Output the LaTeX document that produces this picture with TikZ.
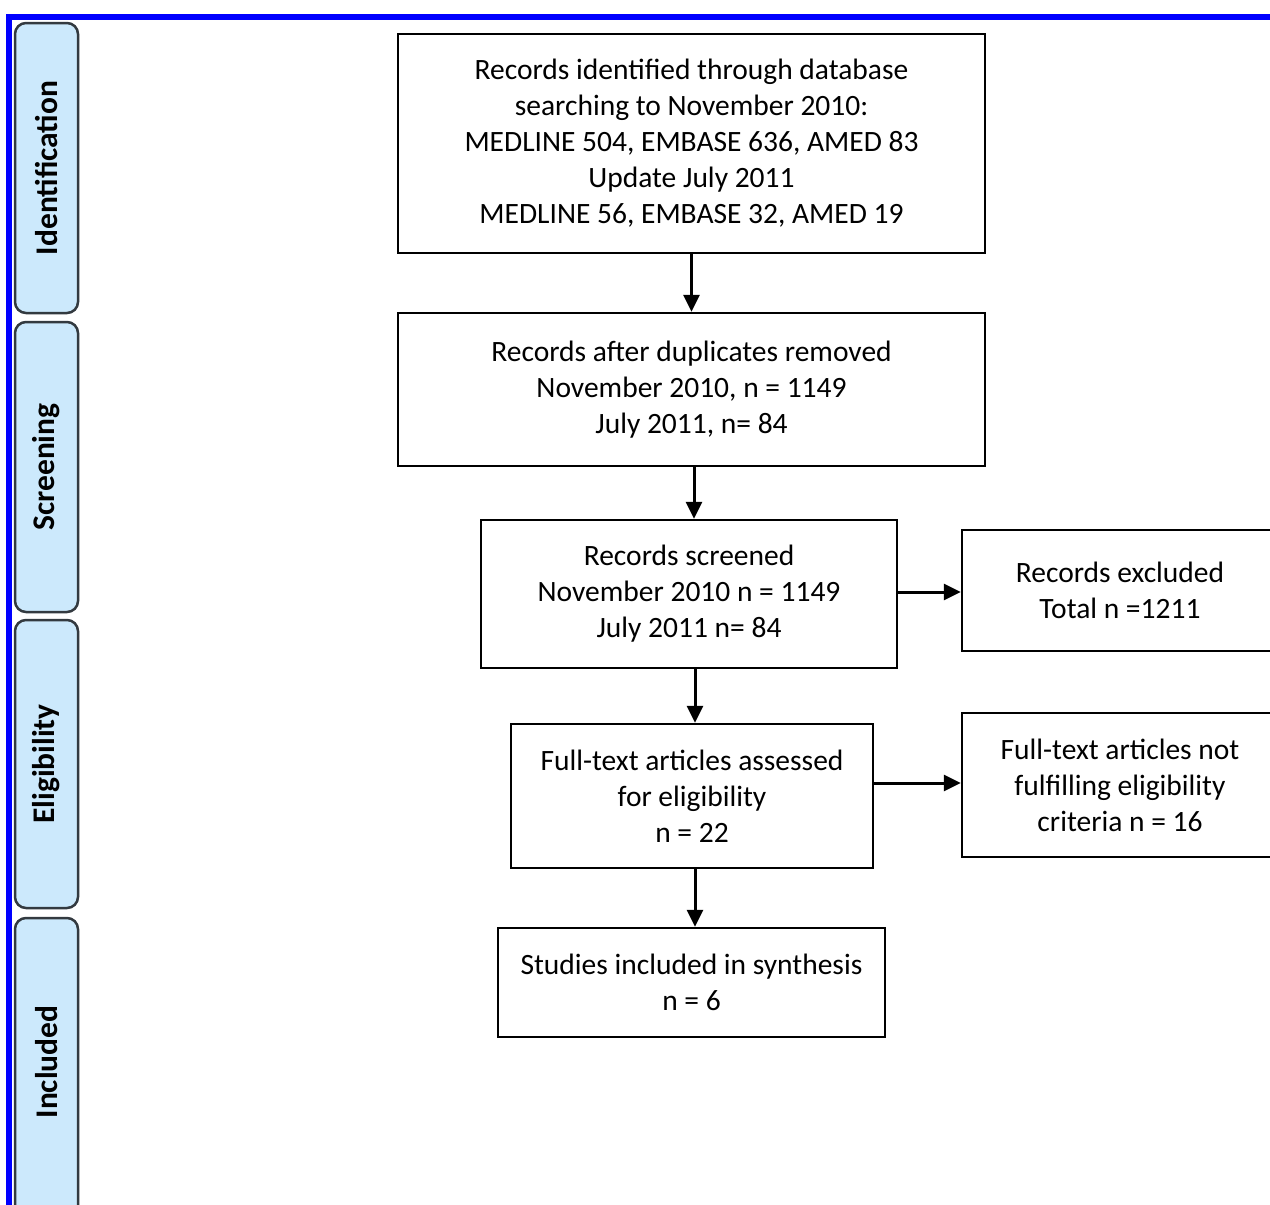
\documentclass[tikz,border=0pt]{standalone}
\usepackage{fontspec}
\setmainfont{Carlito}
\usetikzlibrary{arrows.meta}
\definecolor{lblfill}{HTML}{CCE9FC}
\definecolor{lbldraw}{HTML}{333A40}
\begin{document}
\begin{tikzpicture}[x=1pt,y=-1pt,
  box/.style={draw=black,line width=2.5pt,fill=white,align=center,inner sep=0pt,
    font=\fontsize{29.5}{36}\selectfont},
  phase/.style={draw=lbldraw,line width=2.5pt,fill=lblfill,rounded corners=11pt},
  phasetext/.style={rotate=90,font=\bfseries\fontsize{31.5}{36}\selectfont},
  arr/.style={line width=3pt,-{Triangle[length=17pt,width=16pt]}}]
\useasboundingbox (0,0) rectangle (1270,1205);
\clip (0,0) rectangle (1270,1205);
\fill[white] (0,0) rectangle (1270,1205);
% blue frame
\draw[blue,line width=6pt] (8.5,1215) -- (8.5,16.5) -- (1280,16.5);
% phase labels
\draw[phase] (15,23) rectangle (78,313);
\node[phasetext] (pid) at (46.5,168) {Identification};
\draw[phase] (15,322) rectangle (78,612);
\node[phasetext] (psc) at (46.5,467) {Screening};
\draw[phase] (15,620) rectangle (78,908);
\node[phasetext] (pel) at (46.5,764) {Eligibility};
\draw[phase] (15,918) rectangle (78,1230);
\node[phasetext] (pin) at (46.5,1062) {Included};
% boxes
\node[box,minimum width=587pt,minimum height=219pt] (b1) at (691.5,143.5)
  {Records identified through database\\searching to November 2010:\\MEDLINE 504, EMBASE 636, AMED 83\\Update July 2011\\MEDLINE 56, EMBASE 32, AMED 19};
\node[box,minimum width=587pt,minimum height=153pt] (b2) at (691.5,389.5)
  {Records after duplicates removed\\November 2010, n = 1149\\July 2011, n= 84};
\node[box,minimum width=416pt,minimum height=148pt] (b3) at (689,594)
  {Records screened\\November 2010 n = 1149\\July 2011 n= 84};
\node[box,minimum width=316pt,minimum height=121pt] (b4) at (1120,590.5)
  {Records excluded\\Total n =1211};
\node[box,minimum width=362pt,minimum height=144pt] (b5) at (692,796)
  {Full-text articles assessed\\for eligibility\\n = 22};
\node[box,minimum width=316pt,minimum height=144pt] (b6) at (1120,785)
  {Full-text articles not\\fulfilling eligibility\\criteria n = 16};
\node[box,minimum width=387pt,minimum height=109pt] (b7) at (691.5,982.5)
  {Studies included in synthesis\\n = 6};
% arrows
\draw[arr] (b1.south) -- (b2.north);
\draw[arr] ([xshift=2.5pt]b2.south) -- ([xshift=5pt]b3.north);
\draw[arr] ([xshift=6pt]b3.south) -- ([xshift=3pt]b5.north);
\draw[arr] ([xshift=3pt]b5.south) -- ([xshift=3.5pt]b7.north);
\draw[arr] (b3.east |- 0,592) -- (b4.west |- 0,592);
\draw[arr] (b5.east |- 0,783) -- (b6.west |- 0,783);
\end{tikzpicture}
\end{document}
